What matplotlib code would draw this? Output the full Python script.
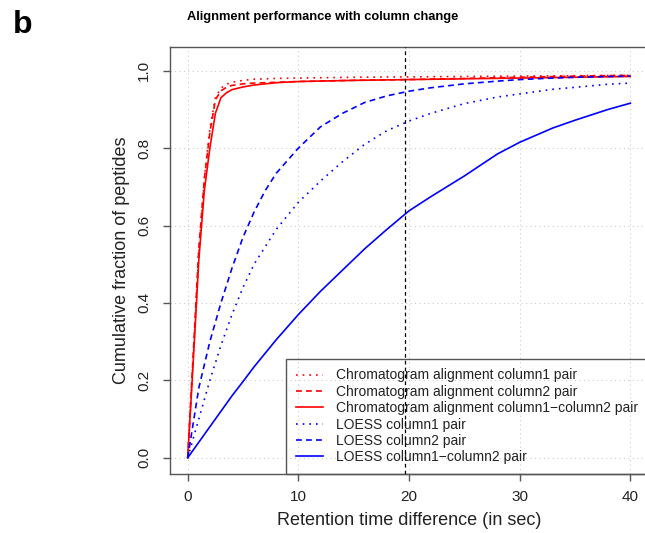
import matplotlib
matplotlib.use('Agg')
import matplotlib.pyplot as plt

plt.rcParams['font.family'] = ['Liberation Sans', 'DejaVu Sans']

# curves
x_chrom = [0, 0.5, 1, 1.5, 2, 2.5, 3, 3.5, 4, 5, 6, 8, 10, 15, 20, 25, 30, 35, 40]
chrom_col1 = [0, 0.26, 0.53, 0.72, 0.85, 0.93, 0.955, 0.965, 0.970, 0.975, 0.978, 0.980,
              0.981, 0.983, 0.984, 0.985, 0.986, 0.987, 0.988]
chrom_col2 = [0, 0.27, 0.54, 0.72, 0.84, 0.925, 0.948, 0.957, 0.962, 0.966, 0.968, 0.970,
              0.972, 0.975, 0.977, 0.980, 0.983, 0.986, 0.988]
chrom_col12 = [0, 0.25, 0.51, 0.69, 0.80, 0.89, 0.93, 0.943, 0.951, 0.958, 0.963, 0.969,
               0.972, 0.975, 0.977, 0.979, 0.981, 0.983, 0.985]

x_loess = [0, 1, 2, 3, 4, 5, 6, 7, 8, 10, 12, 14, 16, 18, 20, 22, 25, 28, 30, 33, 35, 38, 40]
loess_col1 = [0, 0.10, 0.20, 0.29, 0.37, 0.44, 0.50, 0.545, 0.59, 0.66, 0.715, 0.765, 0.81,
              0.845, 0.87, 0.89, 0.915, 0.932, 0.94, 0.952, 0.957, 0.965, 0.968]
loess_col2 = [0, 0.18, 0.30, 0.40, 0.49, 0.57, 0.635, 0.69, 0.735, 0.80, 0.855, 0.89, 0.918,
              0.935, 0.947, 0.956, 0.966, 0.973, 0.977, 0.981, 0.983, 0.985, 0.986]
loess_col12 = [0, 0.04, 0.08, 0.12, 0.16, 0.197, 0.235, 0.27, 0.305, 0.37, 0.43, 0.485, 0.54,
               0.59, 0.638, 0.675, 0.728, 0.785, 0.815, 0.852, 0.872, 0.90, 0.916]

cutoff = 19.6
xticks = [0, 10, 20, 30, 40]
yticks = [0.0, 0.2, 0.4, 0.6, 0.8, 1.0]

labels = ["Chromatogram alignment column1 pair",
          "Chromatogram alignment column2 pair",
          "Chromatogram alignment column1\u2212column2 pair",
          "LOESS column1 pair",
          "LOESS column2 pair",
          "LOESS column1\u2212column2 pair"]

dotted = (0, (1, 3))
dashed = (0, (3.5, 2.5))
lw = 1.2
gray = '#555555'
txt = '#222222'

fig = plt.figure(figsize=(6.45, 5.33), dpi=100)
ax = fig.add_axes([0.2636, 0.1107, 0.7411, 0.8017])

ax.plot(x_chrom, chrom_col1, color='red', lw=lw, ls=dotted, label=labels[0])
ax.plot(x_chrom, chrom_col2, color='red', lw=lw, ls=dashed, label=labels[1])
ax.plot(x_chrom, chrom_col12, color='red', lw=lw, ls='-', label=labels[2])
ax.plot(x_loess, loess_col1, color='blue', lw=lw, ls=dotted, label=labels[3])
ax.plot(x_loess, loess_col2, color='blue', lw=lw, ls=dashed, label=labels[4])
ax.plot(x_loess, loess_col12, color='blue', lw=lw, ls='-', label=labels[5])

ax.axvline(cutoff, color='black', lw=0.9, ls=(0, (3, 2.5)), zorder=6)

ax.set_xlim(-1.6, 41.6)
ax.set_ylim(-0.042, 1.062)
ax.set_xticks(xticks)
ax.set_xticklabels([str(t) for t in xticks])
ax.set_yticks(yticks)
ax.set_yticklabels(['%.1f' % t for t in yticks])
ax.grid(True, color='#cccccc', lw=0.8, ls=(0, (1, 3)))

for s in ax.spines.values():
    s.set_color(gray)
    s.set_linewidth(1.0)
ax.tick_params(direction='out', length=5, width=1, color=gray, labelsize=11, labelcolor=txt)
ax.tick_params(axis='x', pad=6.5)
ax.tick_params(axis='y', pad=8.5)
for t in ax.get_yticklabels():
    t.set_rotation(90)
    t.set_va('center')

ax.set_xlabel("Retention time difference (in sec)", fontsize=13, color=txt)
ax.xaxis.set_label_coords(0.5, -0.089)
ax.set_ylabel("Cumulative fraction of peptides", fontsize=13, color=txt)
ax.yaxis.set_label_coords(-0.084, 0.5)

leg = ax.legend(loc='lower right', bbox_to_anchor=(1.0, 0.0), borderaxespad=0, fontsize=10,
                fancybox=False, facecolor='none', edgecolor=gray, handlelength=1.95,
                handletextpad=0.94, labelspacing=0.17, borderpad=0.7)
leg.get_frame().set_linewidth(1.0)
leg.get_frame().set_alpha(None)
for t in leg.get_texts():
    t.set_color(txt)

fig.text(0.5, 0.9625, "Alignment performance with column change", ha='center', va='baseline',
         fontsize=9.3, fontweight='bold')
fig.text(0.02, 0.938, "b", ha='left', va='baseline', fontsize=23, fontweight='bold')

fig.savefig('out.png', dpi=100)
